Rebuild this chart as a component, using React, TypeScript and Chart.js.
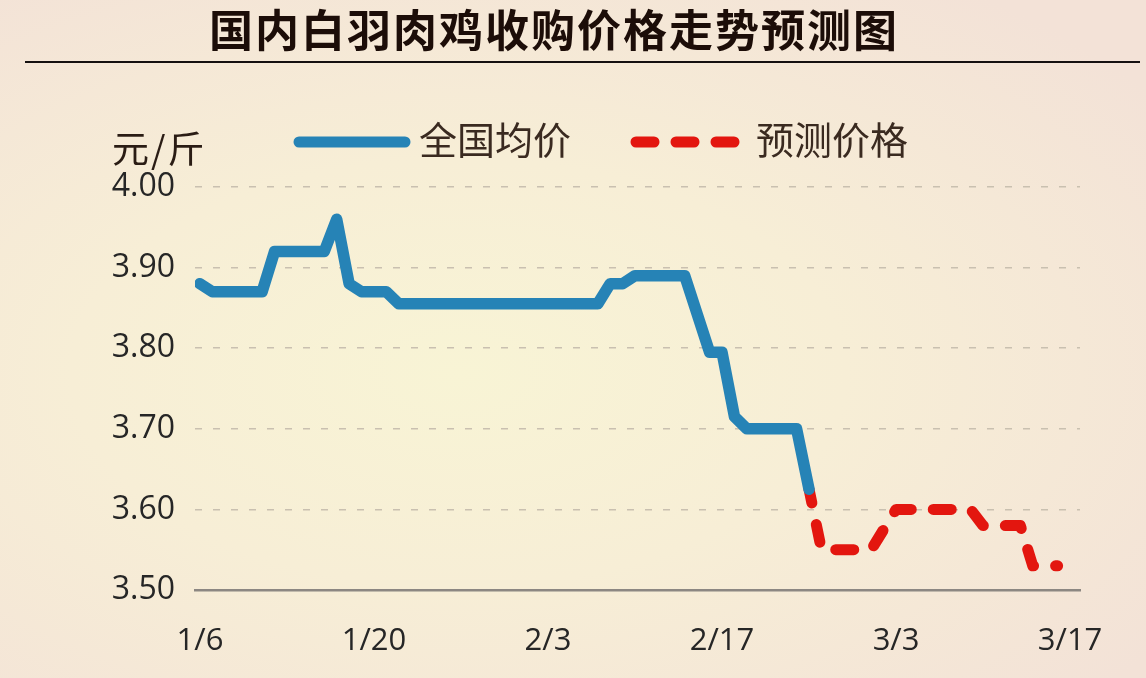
import React, { useEffect, useRef } from "react";
import { Chart, registerables } from "chart.js";

Chart.register(...registerables);

// ---- data ----
const titleText = "国内白羽肉鸡收购价格走势预测图";
const unitText = "元/斤";
const seriesNames = ["全国均价", "预测价格"];
const tickDays = [0, 14, 28, 42, 56, 70];
const tickLabels = ["1/6", "1/20", "2/3", "2/17", "3/3", "3/17"];
const actualDays = [0, 1, 5, 6, 10, 11, 12, 13, 15, 16, 32, 33, 34, 35, 39, 41, 42, 43, 44, 48, 49];
const actualPrices = [3.88, 3.87, 3.87, 3.92, 3.92, 3.96, 3.88, 3.87, 3.87, 3.855, 3.855, 3.88, 3.88, 3.89, 3.89, 3.795, 3.795, 3.715, 3.7, 3.7, 3.625];
const forecastDays = [49, 50, 54, 56, 62, 63, 66, 67, 69];
const forecastPrices = [3.625, 3.55, 3.55, 3.6, 3.6, 3.58, 3.58, 3.53, 3.53];
const yMin = 3.5;
const yMax = 4.0;
const yStep = 0.1;

const BLUE = "#2683b6";
const RED = "#e3160f";
const CJK = "'Noto Sans CJK SC', 'Noto Sans', sans-serif";
const NUM = "'Open Sans', 'Liberation Sans', sans-serif";

const decorPlugin = {
  id: "decor",
  afterDraw(chart: any) {
    const ctx = chart.ctx as CanvasRenderingContext2D;
    ctx.save();
    // title
    ctx.fillStyle = "#1c0d08";
    ctx.font = `bold 44px ${CJK}`;
    (ctx as any).letterSpacing = "2px";
    ctx.textAlign = "center";
    ctx.textBaseline = "middle";
    ctx.fillText(titleText, 554, 30);
    (ctx as any).letterSpacing = "0px";
    // underline
    ctx.strokeStyle = "#151010";
    ctx.lineWidth = 2;
    ctx.beginPath();
    ctx.moveTo(25, 62);
    ctx.lineTo(1140, 62);
    ctx.stroke();
    // unit
    ctx.fillStyle = "#2a1c14";
    ctx.font = `37px ${CJK}`;
    ctx.textAlign = "left";
    (ctx as any).letterSpacing = "2px";
    ctx.fillText(unitText, 112, 149);
    (ctx as any).letterSpacing = "0px";
    // legend
    ctx.lineCap = "round";
    ctx.lineWidth = 11;
    ctx.strokeStyle = BLUE;
    ctx.beginPath();
    ctx.moveTo(299, 142);
    ctx.lineTo(405, 142);
    ctx.stroke();
    ctx.strokeStyle = RED;
    ctx.setLineDash([18, 22]);
    ctx.beginPath();
    ctx.moveTo(636, 142);
    ctx.lineTo(734, 142);
    ctx.stroke();
    ctx.setLineDash([]);
    ctx.fillStyle = "#3a2a20";
    ctx.font = `38px ${CJK}`;
    ctx.fillText(seriesNames[0], 419, 140);
    ctx.fillText(seriesNames[1], 756, 140);
    ctx.restore();
  },
};

export default function App() {
  const ref = useRef<HTMLCanvasElement>(null);
  useEffect(() => {
    document.body.style.margin = "0";
    const chart = new Chart(ref.current as HTMLCanvasElement, {
      type: "line",
      data: {
        datasets: [
          {
            label: seriesNames[0],
            data: actualDays.map((d, i) => ({ x: d, y: actualPrices[i] })),
            borderColor: BLUE,
            borderWidth: 11.5,
            borderCapStyle: "round",
            borderJoinStyle: "round",
            pointRadius: 0,
            tension: 0,
            fill: false,
          },
          {
            label: seriesNames[1],
            data: forecastDays.map((d, i) => ({ x: d, y: forecastPrices[i] })),
            borderColor: RED,
            borderWidth: 11,
            borderDash: [18, 22],
            borderDashOffset: 4,
            borderCapStyle: "round",
            borderJoinStyle: "round",
            pointRadius: 0,
            tension: 0,
            fill: false,
          },
        ],
      },
      options: {
        responsive: false,
        animation: false,
        layout: { padding: { left: 0, right: 66, top: 187, bottom: 0 } },
        plugins: {
          legend: { display: false },
          title: { display: false },
          tooltip: { enabled: false },
        },
        scales: {
          x: {
            type: "linear",
            min: -0.4,
            max: 70.8,
            afterFit: (s: any) => {
              s.height = 88;
            },
            afterBuildTicks: (s: any) => {
              s.ticks = tickDays.map((v) => ({ value: v }));
            },
            ticks: {
              autoSkip: false,
              maxRotation: 0,
              padding: 33,
              labelOffset: 0,
              color: "#262626",
              font: { family: NUM, size: 31 },
              callback: (v: any) => {
                const i = tickDays.indexOf(Number(v));
                return i >= 0 ? tickLabels[i] : "";
              },
            },
            grid: { display: false, drawTicks: false },
            border: { display: true, color: "#8c8782", width: 2.5 },
          },
          y: {
            min: yMin,
            max: yMax,
            afterFit: (s: any) => {
              s.width = 195;
            },
            ticks: {
              stepSize: yStep,
              padding: 20,
              color: "#262626",
              font: { family: NUM, size: 32 },
              callback: (v: any) => Number(v).toFixed(2),
            },
            grid: {
              drawTicks: false,
              lineWidth: 1.5,
              color: (c: any) =>
                c.tick && Math.abs(c.tick.value - yMin) < 1e-6 ? "rgba(0,0,0,0)" : "#c9c0b0",
            },
            border: { display: false, dash: [7, 11] },
          },
        },
      },
      plugins: [decorPlugin],
    } as any);
    return () => chart.destroy();
  }, []);
  return (
    <div
      style={{
        position: "relative",
        width: 1146,
        height: 678,
        background:
          "radial-gradient(ellipse 75% 70% at 40% 55%, #f8f4d5 0%, #f7eed6 45%, #f3e2d7 100%)",
      }}
    >
      <canvas ref={ref} width={1146} height={678} style={{ display: "block" }} />
    </div>
  );
}
